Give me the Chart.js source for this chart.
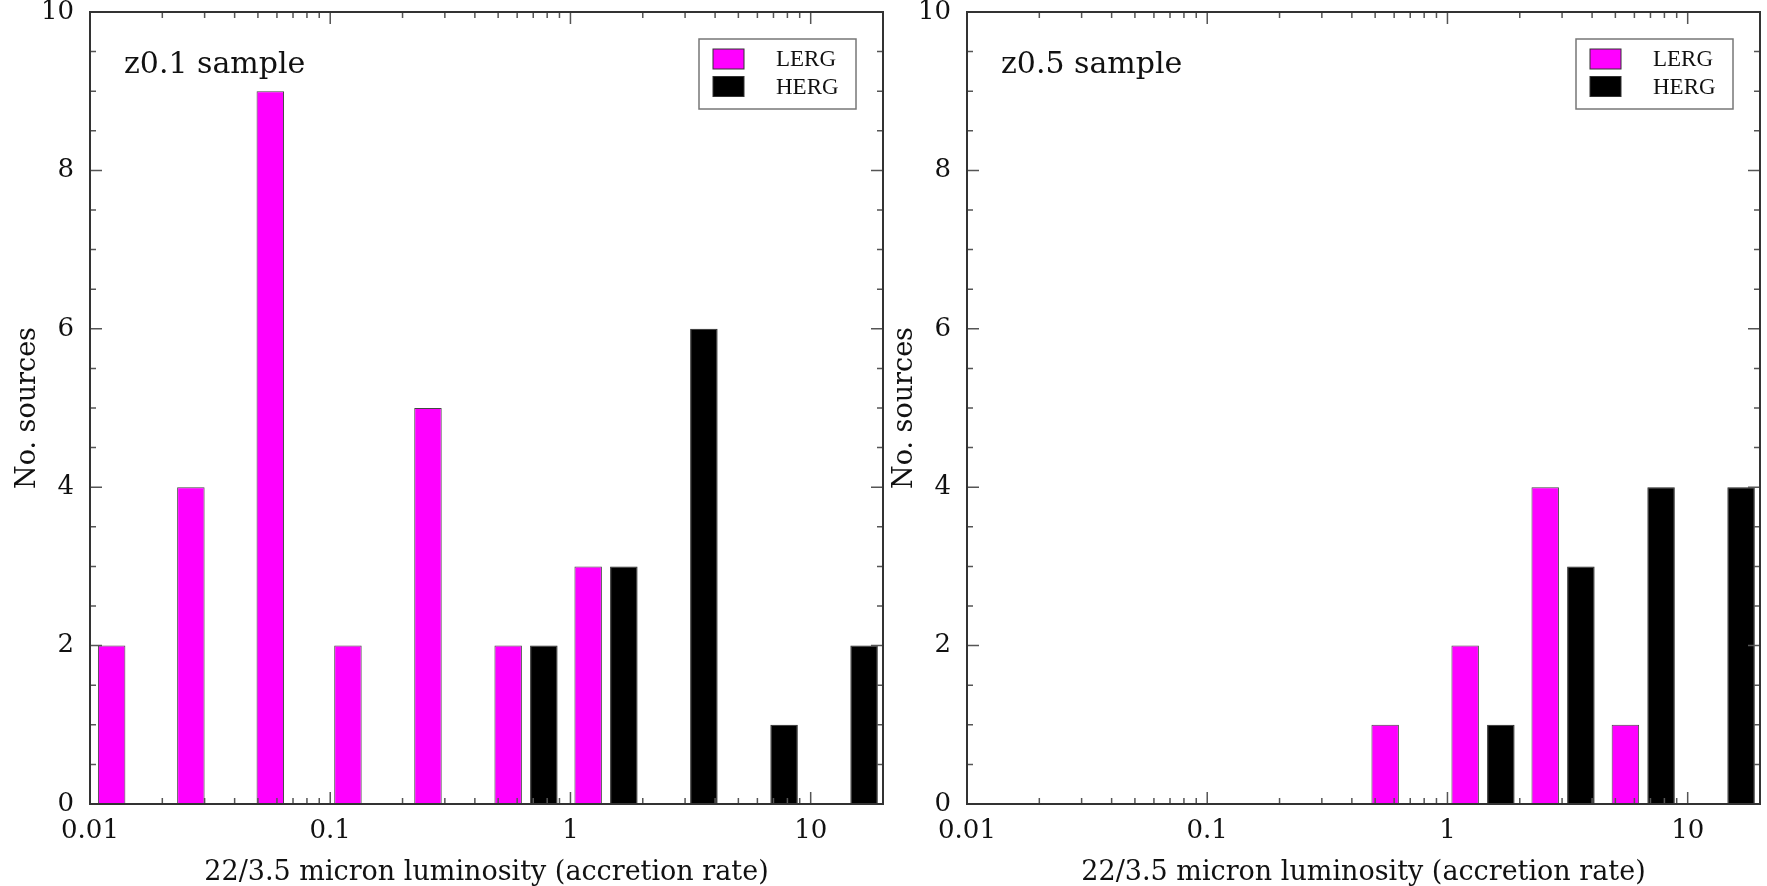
<!DOCTYPE html>
<html>
<head>
<meta charset="utf-8">
<script src="https://cdn.jsdelivr.net/npm/chart.js@4.4.1/dist/chart.umd.min.js"></script>
<style>
  html, body { margin: 0; padding: 0; background: #fff; }
  #wrap { position: relative; width: 1767px; height: 886px; overflow: hidden; }
  canvas { position: absolute; top: 0; }
  #c1 { left: 0; }
  #c2 { left: 877px; }
</style>
</head>
<body>
<div id="wrap">
  <canvas id="c1" width="890" height="886"></canvas>
  <canvas id="c2" width="890" height="886"></canvas>
</div>
<script>
// centres des bins (3 par décade)
const binX = [0.0146, 0.0312, 0.0668, 0.1406, 0.3028, 0.6531, 1.406, 3.028, 6.531, 14.06];
const lergZ01 = [2, 4, 9, 2, 5, 2, 3, 0, 0, 0];
const hergZ01 = [0, 0, 0, 0, 0, 2, 3, 6, 1, 2];
const lergZ05 = [0, 0, 0, 0, 0, 1, 2, 4, 1, 0];
const hergZ05 = [0, 0, 0, 0, 0, 0, 1, 3, 4, 4];
const xTicks = [0.01, 0.1, 1, 10];
const xTickLabels = ["0.01", "0.1", "1", "10"];
const yTicks = [0, 2, 4, 6, 8, 10];
const seriesNames = ["LERG", "HERG"];

const SERIF = "'DejaVu Serif', serif";

// petites graduations log (2..9 dans chaque décade)
const xMinor = [];
xTicks.forEach((d) => {
  for (let k = 2; k <= 9; k++) if (d * k <= 20) xMinor.push(d * k);
});
const yMinor = [];
for (let v = 0.5; v < 10; v += 0.5) if (v % 2 !== 0) yMinor.push(v);

// cadre + graduations vers l'intérieur + légende + étiquette
const cadre = {
  id: "cadre",
  afterDraw(chart, args, opts) {
    const { ctx, chartArea: a } = chart;
    const x = chart.scales.x;
    const y = chart.scales.y;
    ctx.save();

    ctx.strokeStyle = "#555";
    ctx.lineWidth = 1.5;
    ctx.beginPath();
    const tickX = (v, len) => {
      const p = x.getPixelForValue(v);
      ctx.moveTo(p, a.bottom); ctx.lineTo(p, a.bottom - len);
      ctx.moveTo(p, a.top); ctx.lineTo(p, a.top + len);
    };
    const tickY = (v, len) => {
      const p = y.getPixelForValue(v);
      ctx.moveTo(a.left, p); ctx.lineTo(a.left + len, p);
      ctx.moveTo(a.right, p); ctx.lineTo(a.right - len, p);
    };
    xMinor.forEach((v) => tickX(v, 6));
    xTicks.forEach((v) => tickX(v, 12));
    yMinor.forEach((v) => tickY(v, 6));
    yTicks.forEach((v) => tickY(v, 12));
    ctx.stroke();

    ctx.strokeStyle = "#333";
    ctx.lineWidth = 2;
    ctx.strokeRect(a.left, a.top, a.right - a.left, a.bottom - a.top);

    // légende
    const bx = a.right - 184, by = a.top + 27;
    ctx.fillStyle = "#fff";
    ctx.fillRect(bx, by, 157, 70);
    ctx.strokeStyle = "#777";
    ctx.lineWidth = 1.5;
    ctx.strokeRect(bx, by, 157, 70);
    ctx.font = "23px 'Liberation Serif', serif";
    ctx.textBaseline = "middle";
    chart.data.datasets.forEach((ds, i) => {
      const sy = by + 10 + i * 27.5;
      ctx.fillStyle = ds.backgroundColor;
      ctx.fillRect(bx + 14, sy, 31, 20);
      ctx.strokeStyle = "#333";
      ctx.lineWidth = 1;
      ctx.strokeRect(bx + 14, sy, 31, 20);
      ctx.fillStyle = "#111";
      ctx.fillText(ds.label, bx + 77, sy + 11);
    });

    // nom de l'échantillon
    ctx.font = "30px " + SERIF;
    ctx.textBaseline = "alphabetic";
    ctx.fillStyle = "#111";
    ctx.fillText(opts.sample, a.left + 34, a.top + 61);

    ctx.restore();
  },
};

function makeChart(id, sample, lerg, herg) {
  return new Chart(document.getElementById(id), {
    type: "bar",
    data: {
      datasets: [
        {
          label: seriesNames[0],
          data: binX.map((v, i) => ({ x: v, y: lerg[i] })),
          backgroundColor: "#ff00ff",
          borderColor: "#444",
          borderWidth: 1,
        },
        {
          label: seriesNames[1],
          data: binX.map((v, i) => ({ x: v, y: herg[i] })),
          backgroundColor: "#000000",
          borderColor: "#222",
          borderWidth: 1,
        },
      ],
    },
    options: {
      responsive: false,
      devicePixelRatio: 1,
      animation: false,
      layout: { padding: { left: 0, top: 12, right: 7, bottom: 0 } },
      datasets: { bar: { barPercentage: 0.77, categoryPercentage: 0.919 } },
      scales: {
        x: {
          type: "logarithmic",
          min: 0.01,
          max: 20,
          offset: false,
          grid: { display: false, offset: false },
          border: { display: false },
          afterBuildTicks: (s) => { s.ticks = xTicks.map((v) => ({ value: v })); },
          afterFit: (s) => {
            s.height = 82;
            s.paddingLeft = 0;
            s.paddingRight = 0;
          },
          ticks: {
            autoSkip: false,
            maxRotation: 0,
            padding: 6,
            color: "#111",
            font: { family: SERIF, size: 26, lineHeight: 1 },
            callback: (v, i) => xTickLabels[i],
          },
          title: {
            display: true,
            text: "22/3.5 micron luminosity (accretion rate)",
            color: "#111",
            font: { family: SERIF, size: 27, lineHeight: 1 },
            padding: { top: 0, bottom: 0 },
          },
        },
        y: {
          min: 0,
          max: 10,
          grid: { display: false },
          border: { display: false },
          afterBuildTicks: (s) => { s.ticks = yTicks.map((v) => ({ value: v })); },
          afterFit: (s) => {
            s.width = 90;
            s.paddingTop = 0;
            s.paddingBottom = 0;
          },
          ticks: {
            padding: 8,
            color: "#111",
            font: { family: SERIF, size: 26, lineHeight: 1 },
            callback: (v) => String(v),
          },
          title: {
            display: true,
            text: "No. sources",
            color: "#111",
            font: { family: SERIF, size: 27, lineHeight: 1 },
            padding: { top: 14, bottom: 0 },
          },
        },
      },
      plugins: {
        legend: { display: false },
        tooltip: { enabled: false },
        cadre: { sample: sample },
      },
    },
    plugins: [cadre],
  });
}

makeChart("c1", "z0.1 sample", lergZ01, hergZ01);
makeChart("c2", "z0.5 sample", lergZ05, hergZ05);
</script>
</body>
</html>
